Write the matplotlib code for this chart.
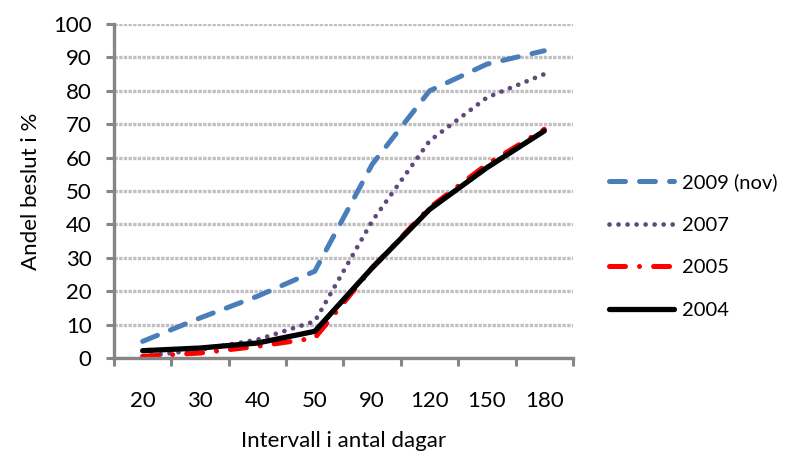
import numpy as np
import matplotlib.pyplot as plt
from matplotlib.ticker import FixedLocator, NullFormatter

plt.rcParams['font.family'] = ['Lato', 'DejaVu Sans']

# data
days = ['20', '30', '40', '50', '90', '120', '150', '180']
y2009 = [5, 12, 18.5, 26, 58, 80, 88, 92]
y2007 = [0.5, 2.5, 5.5, 11, 41, 65, 78, 85]
y2005 = [0.5, 1.5, 3.5, 6, 27, 45, 58, 68.5]
y2004 = [2.2, 3, 4.5, 8, 27, 44.5, 57, 68]

x = np.arange(len(days))

fig = plt.figure(figsize=(7.86, 4.62), dpi=100)
ax = fig.add_axes([0.145, 0.225, 0.584, 0.723])

l1, = ax.plot(x, y2009, color='#4A7EBB', lw=3.6, dashes=(3.2, 2.8),
              dash_capstyle='round', label='2009 (nov)')
l2, = ax.plot(x, y2007, color='#604A7B', lw=3.4, dashes=(0.01, 1.9),
              dash_capstyle='round', label='2007')
l3, = ax.plot(x, y2005, color='#FF0000', lw=3.6, dashes=(3.2, 2.8, 0.01, 2.8),
              dash_capstyle='round', label='2005')
l4, = ax.plot(x, y2004, color='black', lw=3.8, solid_capstyle='round',
              label='2004')

ax.set_xlim(-0.5, len(days) - 0.5)
ax.set_ylim(0, 100)
ax.set_yticks(range(0, 101, 10))
ax.set_xticks(x)
ax.set_xticklabels(days)
ax.xaxis.set_minor_locator(FixedLocator(np.arange(-0.5, len(days), 1)))
ax.xaxis.set_minor_formatter(NullFormatter())
ax.tick_params(axis='x', which='major', length=0, pad=24, labelsize=16)
ax.tick_params(axis='x', which='minor', length=6, width=2.2, color='#868686')
ax.tick_params(axis='y', length=6, width=2.2, color='#868686', labelsize=16, pad=10)

ax.yaxis.grid(True, color='#C0C0C0', lw=2.4, linestyle=(0, (1, 0.4)))
ax.set_axisbelow(True)
for s in ['top', 'right']:
    ax.spines[s].set_visible(False)
for s in ['left', 'bottom']:
    ax.spines[s].set_color('#868686')
    ax.spines[s].set_linewidth(2.4)

ax.set_ylabel('Andel beslut i %', fontsize=16, labelpad=9)
ax.set_xlabel('Intervall i antal dagar', fontsize=16, labelpad=14)

ax.legend(handles=[l1, l2, l3, l4], loc='center left',
          bbox_to_anchor=(1.04, 0.335), frameon=False, fontsize=14.5,
          handlelength=3.2, labelspacing=1.26, handletextpad=0.4)

fig.savefig('out.png', dpi=100)
